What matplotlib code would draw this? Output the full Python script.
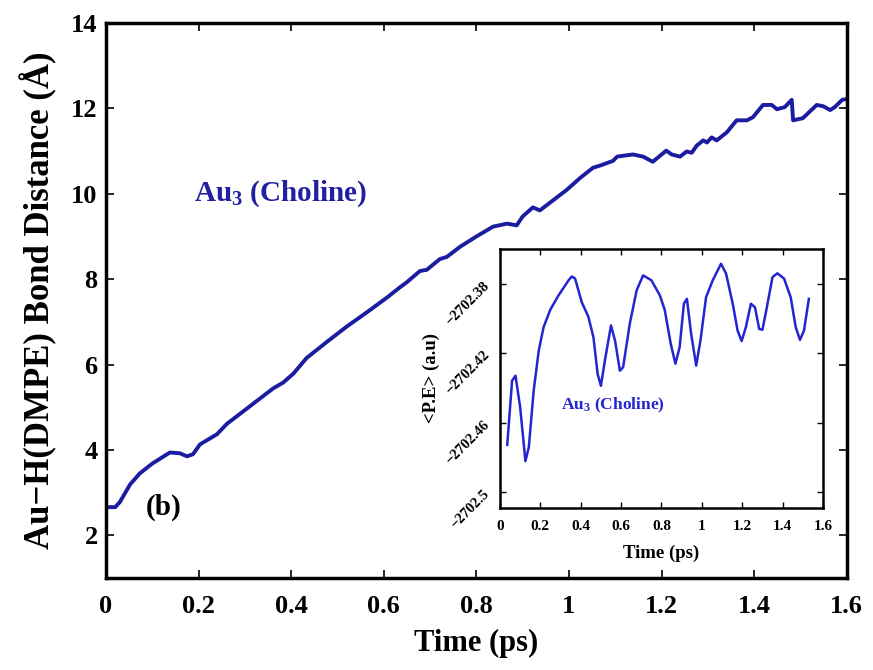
import matplotlib
matplotlib.use("Agg")
import matplotlib.pyplot as plt

# main curve: Au-H(DMPE) bond distance vs time
time_ps = [0.004, 0.02, 0.03, 0.052, 0.073, 0.10, 0.138, 0.16, 0.175, 0.188,
           0.203, 0.24, 0.261, 0.29, 0.326, 0.361, 0.383, 0.405, 0.433, 0.477,
           0.52, 0.563, 0.607, 0.635, 0.65, 0.678, 0.693, 0.721, 0.736, 0.765,
           0.80, 0.836, 0.866, 0.887, 0.90, 0.922, 0.937, 0.966, 0.995, 1.024,
           1.052, 1.067, 1.095, 1.104, 1.138, 1.16, 1.181, 1.21, 1.222, 1.24,
           1.254, 1.265, 1.276, 1.29, 1.298, 1.308, 1.319, 1.341, 1.362, 1.384,
           1.397, 1.419, 1.438, 1.449, 1.466, 1.481, 1.484, 1.505, 1.535, 1.549,
           1.564, 1.574, 1.59, 1.60]
bond_dist = [2.66, 2.66, 2.78, 3.19, 3.45, 3.68, 3.94, 3.92, 3.85, 3.90,
             4.13, 4.37, 4.61, 4.85, 5.15, 5.44, 5.58, 5.79, 6.15, 6.53,
             6.89, 7.22, 7.57, 7.81, 7.93, 8.19, 8.22, 8.47, 8.52, 8.76,
             9.00, 9.23, 9.30, 9.26, 9.47, 9.68, 9.61, 9.85, 10.09, 10.37,
             10.61, 10.66, 10.77, 10.87, 10.92, 10.87, 10.75, 11.01, 10.92, 10.87,
             10.99, 10.96, 11.13, 11.25, 11.20, 11.32, 11.25, 11.44, 11.72, 11.72,
             11.79, 12.08, 12.08, 11.98, 12.03, 12.20, 11.72, 11.77, 12.08, 12.05,
             11.96, 12.03, 12.20, 12.22]

# inset: potential energy vs time
pe_time = [0.036, 0.06, 0.077, 0.10, 0.126, 0.143, 0.167, 0.192, 0.216, 0.249,
           0.29, 0.34, 0.356, 0.372, 0.405, 0.438, 0.463, 0.484, 0.50, 0.52,
           0.55, 0.57, 0.594, 0.61, 0.643, 0.677, 0.709, 0.75, 0.792, 0.816,
           0.846, 0.869, 0.89, 0.911, 0.926, 0.947, 0.972, 0.993, 1.021, 1.054,
           1.095, 1.12, 1.153, 1.177, 1.197, 1.218, 1.243, 1.263, 1.284, 1.30,
           1.322, 1.35, 1.374, 1.407, 1.44, 1.465, 1.486, 1.506, 1.53]
pe_vals = [-2702.4727, -2702.4358, -2702.4329, -2702.451, -2702.482, -2702.474,
           -2702.4415, -2702.4185, -2702.405, -2702.395, -2702.3867, -2702.378,
           -2702.3758, -2702.377, -2702.3906, -2702.399, -2702.4108, -2702.432,
           -2702.4387, -2702.424, -2702.404, -2702.4127, -2702.43, -2702.428,
           -2702.403, -2702.3838, -2702.3752, -2702.378, -2702.3867, -2702.395,
           -2702.4146, -2702.426, -2702.4165, -2702.3915, -2702.3887, -2702.4088,
           -2702.4271, -2702.4127, -2702.3877, -2702.378, -2702.3685, -2702.3742,
           -2702.3915, -2702.4069, -2702.413, -2702.405, -2702.3915, -2702.3935,
           -2702.406, -2702.4065, -2702.3935, -2702.3762, -2702.374, -2702.377,
           -2702.3877, -2702.405, -2702.4123, -2702.4069, -2702.3887]

main_xticks = [0, 0.2, 0.4, 0.6, 0.8, 1, 1.2, 1.4, 1.6]
main_xlabels = ["0", "0.2", "0.4", "0.6", "0.8", "1", "1.2", "1.4", "1.6"]
main_yticks = [2, 4, 6, 8, 10, 12, 14]
inset_yticks = [-2702.5, -2702.46, -2702.42, -2702.38]
inset_ylabels = ["\u22122702.5", "\u22122702.46", "\u22122702.42", "\u22122702.38"]

plt.rcParams["font.family"] = ["Liberation Serif", "DejaVu Serif"]
plt.rcParams["font.weight"] = "bold"
plt.rcParams["axes.labelweight"] = "bold"
plt.rcParams["mathtext.fontset"] = "custom"
plt.rcParams["mathtext.rm"] = "Liberation Serif:bold"
plt.rcParams["mathtext.bf"] = "Liberation Serif:bold"
plt.rcParams["mathtext.it"] = "Liberation Serif:bold"

fig = plt.figure(figsize=(8.73, 6.70), dpi=100)
ax = fig.add_axes([0.1214, 0.1373, 0.8486, 0.8284])

ax.plot(time_ps, bond_dist, color="#1c1ca0", linewidth=2.8)
ax.set_xlim(0, 1.6)
ax.set_ylim(1, 14)
ax.set_xticks(main_xticks)
ax.set_xticklabels(main_xlabels)
ax.set_yticks(main_yticks)
ax.tick_params(direction="in", length=6, width=1.2, top=True, right=True,
               labelsize=19)
ax.tick_params(axis="x", pad=12)
ax.tick_params(axis="y", pad=6)
for s in ax.spines.values():
    s.set_linewidth(2.5)
ax.set_xlabel("Time (ps)", fontsize=22, labelpad=8)
ax.set_ylabel("Au\u2212H(DMPE) Bond Distance (\u00c5)", fontsize=25, labelpad=10)

ax.text(0.19, 10.0, "Au$_\\mathbf{3}$ (Choline)", color="#2020a0", fontsize=21,
        fontweight="bold", va="center", ha="left")
ax.text(0.085, 2.66, "(b)", color="black", fontsize=21, fontweight="bold",
        va="center", ha="left")

# inset
ins = fig.add_axes([0.5727, 0.2418, 0.37, 0.3866])
ins.plot(pe_time, pe_vals, color="#2424d0", linewidth=1.8)
ins.set_xlim(0, 1.6)
ins.set_ylim(-2702.509, -2702.36)
ins.set_xticks(main_xticks)
ins.set_xticklabels(main_xlabels)
ins.set_yticks(inset_yticks)
ins.set_yticklabels(inset_ylabels, rotation=45, ha="right", va="center",
                    rotation_mode="anchor")
ins.tick_params(direction="in", length=4, width=1, top=True, right=True,
                labelsize=11)
ins.tick_params(axis="x", pad=9)
ins.tick_params(axis="y", pad=9, labelsize=10.5)
for s in ins.spines.values():
    s.set_linewidth(1.8)
ins.set_xlabel("Time (ps)", fontsize=13.5, labelpad=8)
ins.set_ylabel("<P.E> (a.u)", fontsize=13.5, labelpad=2)
ins.text(0.3, -2702.45, "Au$_\\mathbf{3}$ (Choline)", color="#2424d0",
         fontsize=12.5, fontweight="bold", va="center", ha="left")

fig.savefig("out.png", dpi=100)
